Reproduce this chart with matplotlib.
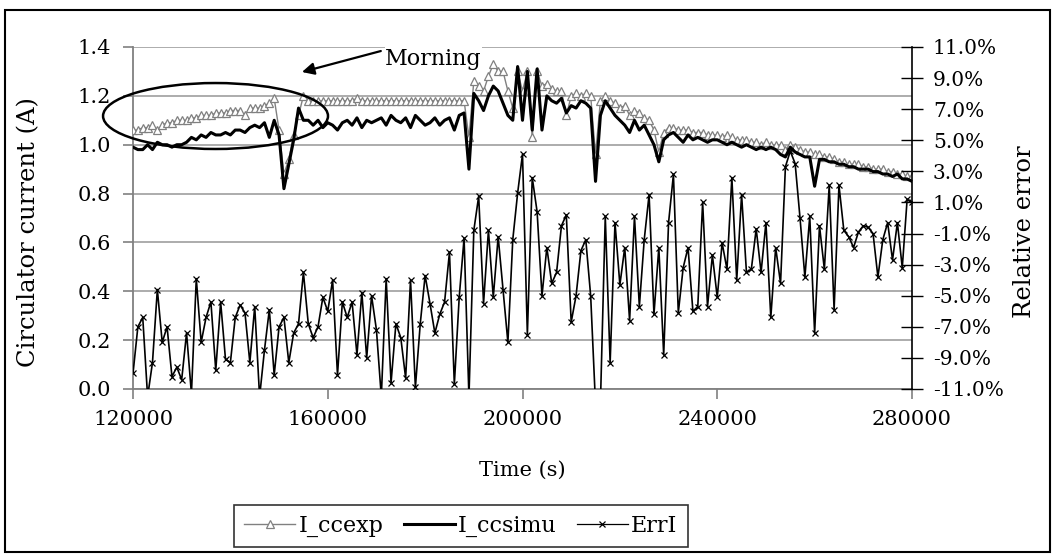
import numpy as np
import matplotlib
matplotlib.use("Agg")
import matplotlib.pyplot as plt
from matplotlib.patches import Ellipse, Rectangle
from matplotlib.lines import Line2D
from matplotlib.ticker import FuncFormatter, FixedLocator

plt.rcParams['font.family'] = ['DejaVu Serif']

time_s = np.arange(120000, 280001, 1000)

I_ccexp = [
    1.06, 1.06, 1.07, 1.07, 1.08, 1.06, 1.08, 1.09, 1.09, 1.10,
    1.10, 1.10, 1.11, 1.11, 1.12, 1.12, 1.12, 1.13, 1.13, 1.13,
    1.14, 1.14, 1.14, 1.12, 1.15, 1.15, 1.15, 1.16, 1.17, 1.19,
    1.06, 0.88, 0.94, 1.04, 1.12, 1.20, 1.18, 1.18, 1.18, 1.18,
    1.18, 1.18, 1.18, 1.18, 1.18, 1.18, 1.19, 1.18, 1.18, 1.18,
    1.18, 1.18, 1.18, 1.18, 1.18, 1.18, 1.18, 1.18, 1.18, 1.18,
    1.18, 1.18, 1.18, 1.18, 1.18, 1.18, 1.18, 1.18, 1.18, 1.03,
    1.26, 1.24, 1.22, 1.28, 1.33, 1.30, 1.30, 1.22, 1.15, 1.30,
    1.22, 1.30, 1.03, 1.30, 1.24, 1.25, 1.23, 1.22, 1.22, 1.12,
    1.20, 1.21, 1.20, 1.21, 1.20, 0.96, 1.18, 1.20, 1.18, 1.17,
    1.15, 1.16, 1.12, 1.14, 1.13, 1.11, 1.10, 1.06, 0.97, 1.05,
    1.07, 1.07, 1.06, 1.06, 1.06, 1.05, 1.05, 1.05, 1.04, 1.04,
    1.04, 1.03, 1.04, 1.03, 1.02, 1.02, 1.02, 1.01, 1.01, 1.00,
    1.01, 1.00, 1.00, 1.00, 0.98, 1.00, 0.99, 0.98, 0.97, 0.97,
    0.96, 0.96, 0.95, 0.95, 0.94, 0.93, 0.93, 0.92, 0.92, 0.92,
    0.91, 0.91, 0.90, 0.90, 0.90, 0.89, 0.89, 0.88, 0.88, 0.87,
    0.87,
]

I_ccsimu = [
    0.99, 0.98, 0.98, 1.00, 0.98, 1.01, 1.00, 1.00, 0.99, 1.00,
    1.00, 1.01, 1.03, 1.02, 1.04, 1.03, 1.05, 1.04, 1.04, 1.05,
    1.04, 1.06, 1.06, 1.05, 1.07, 1.08, 1.07, 1.09, 1.03, 1.10,
    1.04, 0.82, 0.92, 1.02, 1.15, 1.10, 1.10, 1.08, 1.10, 1.07,
    1.09, 1.08, 1.06, 1.09, 1.10, 1.08, 1.11, 1.07, 1.10, 1.09,
    1.10, 1.11, 1.08, 1.12, 1.10, 1.09, 1.11, 1.07, 1.12, 1.10,
    1.08, 1.09, 1.11, 1.08, 1.10, 1.11, 1.06, 1.12, 1.13, 0.90,
    1.21, 1.18, 1.14, 1.20, 1.24, 1.22, 1.17, 1.12, 1.10, 1.32,
    1.10, 1.30, 1.06, 1.31, 1.06, 1.20, 1.18, 1.17, 1.19, 1.13,
    1.16, 1.15, 1.18, 1.17, 1.15, 0.85, 1.12, 1.18, 1.15, 1.12,
    1.10, 1.08, 1.05, 1.10, 1.06, 1.08, 1.04, 1.00, 0.93, 1.02,
    1.04, 1.05, 1.03, 1.01, 1.04, 1.02, 1.03, 1.02, 1.01, 1.02,
    1.02, 1.01, 1.00, 1.01, 1.00, 0.99, 1.00, 0.99, 0.98, 0.99,
    0.98, 0.99, 0.98, 0.96, 0.95, 0.99, 0.97, 0.96, 0.95, 0.95,
    0.83, 0.94, 0.94, 0.93, 0.93, 0.92, 0.92, 0.91, 0.91, 0.90,
    0.90, 0.90, 0.89, 0.89, 0.88, 0.88, 0.87, 0.88, 0.86, 0.86,
    0.85,
]

ErrI = [
    -10.0, -7.0, -6.4, -11.5, -9.3, -4.6, -8.0, -7.0, -10.2, -9.6,
    -10.4, -7.4, -11.3, -3.9, -8.0, -6.4, -5.4, -9.8, -5.4, -9.1,
    -9.3, -6.4, -5.6, -6.1, -9.3, -5.7, -11.5, -8.5, -5.9, -10.1,
    -7.0, -6.4, -9.3, -7.4, -6.8, -3.5, -6.8, -7.7, -7.0, -5.1,
    -6.0, -4.0, -10.1, -5.4, -6.4, -5.4, -8.8, -4.8, -9.0, -5.0,
    -7.2, -11.5, -3.9, -10.6, -6.8, -7.7, -10.3, -4.0, -10.9, -6.8,
    -3.7, -5.5, -7.4, -6.2, -5.4, -2.2, -10.7, -5.1, -1.3, -11.5,
    -0.8, 1.4, -5.5, -0.8, -5.1, -1.2, -4.6, -8.0, -1.4, 1.6,
    4.1, -7.5, 2.6, 0.4, -5.0, -1.9, -4.2, -3.5, -0.5, 0.2,
    -6.7, -5.0, -2.1, -1.4, -5.0, -12.0, -12.0, 0.1, -9.3, -0.3,
    -4.3, -1.9, -6.6, 0.1, -5.7, -1.4, 1.5, -6.2, -1.9, -8.8,
    -0.3, 2.8, -6.1, -3.2, -1.9, -6.0, -5.7, 1.0, -5.7, -2.4,
    -5.1, -1.6, -3.3, 2.6, -4.0, 1.5, -3.5, -3.3, -0.7, -3.5,
    -0.3, -6.4, -1.9, -4.2, 3.3, 4.3, 3.5, 0.0, -3.8, 0.1,
    -7.4, -0.5, -3.3, 2.1, -5.9, 2.1, -0.8, -1.2, -1.9, -0.9,
    -0.5, -0.6, -1.0, -3.8, -1.4, -0.3, -2.7, -0.3, -3.2, 1.2,
    1.0,
]

series_names = ["I_ccexp", "I_ccsimu", "ErrI"]
x_ticks = [120000, 160000, 200000, 240000, 280000]
left_ticks = [0.0, 0.2, 0.4, 0.6, 0.8, 1.0, 1.2, 1.4]
right_ticks = [-11, -9, -7, -5, -3, -1, 1, 3, 5, 7, 9, 11]

W, H = 1057, 558
fig = plt.figure(figsize=(W / 100, H / 100), dpi=100)
L, R, T, B = 133, 912, 47, 389
ax = fig.add_axes([L / W, 1 - B / H, (R - L) / W, (B - T) / H])
ax2 = ax.twinx()

gray = '#808080'
grid_c = '#a6a6a6'

ax.set_xlim(120000, 280000)
ax.set_ylim(0, 1.4)
ax2.set_ylim(-11, 11)

ax.yaxis.set_major_locator(FixedLocator(left_ticks))
ax.xaxis.set_major_locator(FixedLocator(x_ticks))
ax2.yaxis.set_major_locator(FixedLocator(right_ticks))
ax.yaxis.set_major_formatter(FuncFormatter(lambda v, p: f"{v:.1f}"))
ax.xaxis.set_major_formatter(FuncFormatter(lambda v, p: f"{int(v)}"))
ax2.yaxis.set_major_formatter(FuncFormatter(lambda v, p: f"{v:.1f}%".replace('\u2212', '-')))

ax.grid(axis='y', color=grid_c, lw=1.3)
ax.set_axisbelow(True)
for s in ['top', 'right']:
    ax.spines[s].set_visible(False)
for s in ['left', 'bottom']:
    ax.spines[s].set_color(gray)
    ax.spines[s].set_linewidth(1.3)
for s in ['top', 'left', 'bottom']:
    ax2.spines[s].set_visible(False)
ax2.spines['right'].set_color('black')
ax2.spines['right'].set_linewidth(1.2)

ax.tick_params(axis='both', colors=gray, labelcolor='black', length=7, width=1.2,
               labelsize=15, direction='out')
ax.tick_params(axis='x', pad=8)
ax.tick_params(axis='y', pad=9)
ax2.tick_params(axis='y', colors='black', length=16, width=1.0, direction='inout',
                labelsize=14.5, pad=7)

ax.plot(time_s, I_ccexp, color=gray, lw=1.0, marker='^', ms=5.5, mfc='white',
        mec=gray, mew=0.9, zorder=3)
ax.plot(time_s, I_ccsimu, color='black', lw=2.2, zorder=4)
ax2.plot(time_s, ErrI, color='black', lw=1.2, marker='x', ms=5, mew=0.9, zorder=3)

ax.set_ylabel("Circulator current (A)", fontsize=17.5)
ax.yaxis.set_label_coords(-0.119, 0.459)
ax.set_xlabel("Time (s)", fontsize=15, labelpad=23)
ax2.set_ylabel("Relative error", fontsize=17.5, rotation=90)
ax2.yaxis.set_label_coords(1.13, 0.459)

# annotation: ellipse and arrow
ell = Ellipse((136950, 1.1175), 46200, 0.27, transform=ax.transData,
              fill=False, edgecolor='black', lw=1.8, clip_on=False, zorder=10)
ax2.add_patch(ell)
ax2.annotate('', xy=(154700, 1.2976), xytext=(170900, 1.3835),
             xycoords=ax.transData, textcoords=ax.transData,
             arrowprops=dict(arrowstyle='-|>', color='black', lw=1.6,
                             mutation_scale=18, shrinkA=0, shrinkB=0),
             annotation_clip=False, zorder=10)
ax2.text(171800, 1.326, "Morning", transform=ax.transData, fontsize=16,
         ha='left', va='baseline', zorder=11,
         bbox=dict(facecolor='white', edgecolor='none', pad=0.5))

handles = [
    Line2D([], [], color=gray, lw=1.0, marker='^', ms=5.5, mfc='white', mec=gray, mew=0.9),
    Line2D([], [], color='black', lw=2.2),
    Line2D([], [], color='black', lw=0.9, marker='x', ms=4, mew=0.9),
]
leg = fig.legend(handles, series_names, loc='center', bbox_to_anchor=(461 / W, 1 - 526 / H),
                 ncol=3, frameon=True, fancybox=False, edgecolor='black', fontsize=16,
                 numpoints=1, handlelength=2.3, handletextpad=0.15, columnspacing=0.9,
                 borderpad=0.45, borderaxespad=0)
leg.get_frame().set_linewidth(1.2)

fig.patches.append(Rectangle((5 / W, 1 - 552 / H), 1045 / W, 542 / H, transform=fig.transFigure,
                             fill=False, edgecolor='black', lw=1.5))

fig.savefig("out.png", dpi=100)
